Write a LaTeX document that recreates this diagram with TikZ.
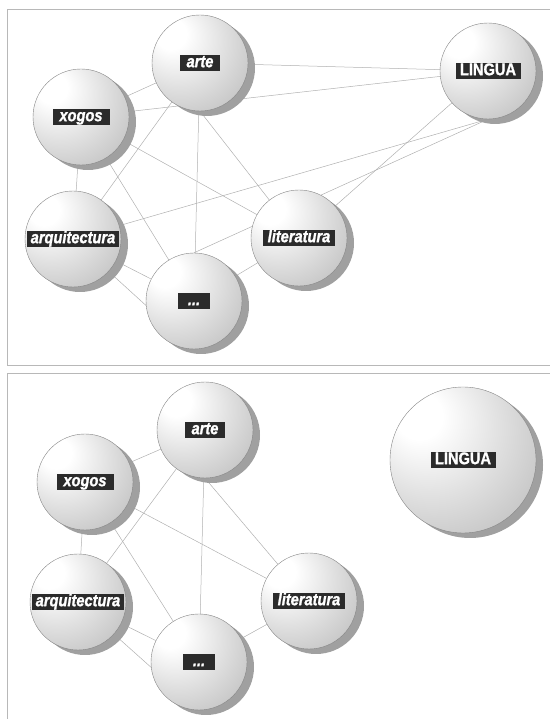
\documentclass[tikz,border=0pt]{standalone}
\usepackage{fontspec}
\usepackage{tikz}
\usetikzlibrary{shadows}
\newfontfamily\tagfont{Liberation Sans}[FakeStretch=0.86,FakeBold=1.2]
\newcommand{\tagdots}{...}
\definecolor{BallLight}{HTML}{E0E0E0}
\definecolor{BallMid}{HTML}{C6C6C6}
\definecolor{BallRim}{HTML}{A6A6A6}
\definecolor{BallShadow}{HTML}{A0A0A0}
\definecolor{TagFill}{HTML}{2B2B2B}
\definecolor{LinkGrey}{HTML}{B0B0B0}
\definecolor{FrameGrey}{HTML}{B8B8B8}
\pgfdeclareradialshading{ballgrey}{\pgfpoint{-17bp}{17bp}}{%
  color(0bp)=(white); color(8bp)=(white); color(24bp)=(BallLight);
  color(38bp)=(BallMid); color(50bp)=(BallRim); color(70bp)=(BallRim)}
\pgfdeclarelayer{links}
\pgfsetlayers{links,main}

\begin{document}
\begin{tikzpicture}[x=1pt,y=1pt,
    sphere/.style={circle,minimum size=96pt,inner sep=0pt,shading=ballgrey,
      draw=BallRim!80!black,line width=0.4pt,
      drop shadow={shadow xshift=7pt,shadow yshift=-5pt,fill=BallShadow,opacity=1}},
    tag/.style={fill=TagFill,text=white,inner xsep=0pt,inner ysep=0.8pt,
      text height=11.8pt,text depth=3.4pt,
      font=\tagfont\bfseries\itshape\fontsize{17}{17}\selectfont},
    link/.style={LinkGrey,line width=0.5pt},
    frame/.style={FrameGrey,line width=0.8pt}]
  \useasboundingbox (0,0) rectangle (549,719);
  % the two panels
  \draw[frame] (560,709.5) -| (7,354) -- (560,354);
  \draw[frame] (560,346) -| (7,-5);

  % upper panel: LINGUA tied in
  \node[sphere] (arteA) at (200,656) {};
  \node[sphere] (xogosA) at (81,602) {};
  \node[sphere] (linguaA) at (488,648) {};
  \node[sphere] (arquiA) at (73,480) {};
  \node[sphere] (litA) at (299,481) {};
  \node[sphere] (dotsA) at (194,418) {};

  % lower panel: LINGUA on its own
  \node[sphere] (arteB) at (205,289) {};
  \node[sphere] (xogosB) at (85,237) {};
  \node[sphere,minimum size=146pt] (linguaB) at (463,259) {};
  \node[sphere] (arquiB) at (78,117) {};
  \node[sphere] (litB) at (309,118) {};
  \node[sphere] (dotsB) at (199,57) {};

  \foreach \n/\t/\w in {arteA/arte/40, xogosA/xogos/57, linguaA/\upshape LINGUA/65,
      arquiA/arquitectura/92, litA/literatura/72, dotsA/\tagdots/32,
      arteB/arte/40, xogosB/xogos/57, linguaB/\upshape LINGUA/65,
      arquiB/arquitectura/92, litB/literatura/72, dotsB/\tagdots/32}
    \node[tag,minimum width=\w pt] (\n-t) at (\n) {\t};

  \begin{pgfonlayer}{links}
    \foreach \a/\b in {xogosA/arteA, xogosA/arquiA, xogosA/litA, xogosA/dotsA,
        xogosA/linguaA, arteA/linguaA, arteA/arquiA, arteA/dotsA, arteA.south/litA,
        arquiA/linguaA.south, arquiA/dotsA, arquiA/dotsA.south, dotsA/litA,
        dotsA.north/linguaA.south, litA/linguaA}
      \draw[link] (\a) -- (\b);
    \foreach \a/\b in {xogosB/arteB, xogosB/arquiB, xogosB/litB, xogosB/dotsB,
        arteB/arquiB, arteB/dotsB, arteB.south/litB, arquiB/dotsB,
        arquiB/dotsB.south, dotsB/litB}
      \draw[link] (\a) -- (\b);
  \end{pgfonlayer}
\end{tikzpicture}
\end{document}
